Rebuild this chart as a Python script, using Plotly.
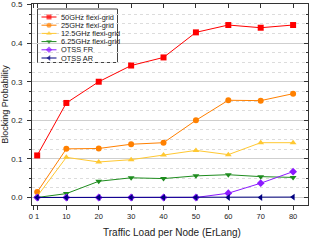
import plotly.graph_objects as go

# ---- data ----
loads = [1, 10, 20, 30, 40, 50, 60, 70, 80]
bp_50ghz = [0.109, 0.245, 0.300, 0.342, 0.363, 0.428, 0.447, 0.440, 0.447]
bp_25ghz = [0.014, 0.126, 0.127, 0.138, 0.142, 0.200, 0.252, 0.251, 0.269]
bp_12_5ghz = [0.003, 0.104, 0.092, 0.098, 0.110, 0.122, 0.111, 0.142, 0.142]
bp_6_25ghz = [0.000, 0.010, 0.042, 0.051, 0.049, 0.056, 0.059, 0.054, 0.052]
bp_otss_fr = [0.000, 0.000, 0.000, 0.000, 0.000, 0.000, 0.011, 0.037, 0.067]
bp_otss_ar = [0.000, 0.000, 0.000, 0.000, 0.000, 0.000, 0.000, 0.000, 0.001]

series_names = ["50GHz flexi-grid", "25GHz flexi-grid", "12.5GHz flexi-grid",
                "6.25GHz flexi-grid", "OTSS FR", "OTSS AR"]
x_tickvals = [0, 1, 10, 20, 30, 40, 50, 60, 70, 80]
x_ticktext = ["0 1", "", "10", "20", "30", "40", "50", "60", "70", "80"]
y_tickvals = [0.0, 0.1, 0.2, 0.3, 0.4, 0.5]

series_values = [bp_50ghz, bp_25ghz, bp_12_5ghz, bp_6_25ghz, bp_otss_fr, bp_otss_ar]
colors = ["#FF0000", "#FF8000", "#FFC831", "#1E8C1E", "#8C1AFF", "#000080"]
symbols = ["square", "circle", "triangle-up", "triangle-down", "diamond", "triangle-left"]

FONT = "Liberation Sans, Arial, sans-serif"
TXT = "#222222"
W, H = 312, 240
ML, MR, MT, MB = 32, 4, 4, 35
XR = [-0.6, 84.6]
YR = [-0.0195, 0.5015]

fig = go.Figure()
for name, vals, c, s in zip(series_names, series_values, colors, symbols):
    fig.add_trace(go.Scatter(
        x=loads, y=vals, mode="lines+markers", name=name,
        line=dict(color=c, width=1),
        marker=dict(color=c, symbol=s, size=6, line=dict(width=0)),
        showlegend=False, xaxis="x", yaxis="y"))

pw, ph = W - ML - MR, H - MT - MB


def px2data(px, py):
    fx = (px - ML) / pw
    fy = (H - MB - py) / ph
    return XR[0] + fx * (XR[1] - XR[0]), YR[0] + fy * (YR[1] - YR[0])


def px2paper(px, py):
    return (px - ML) / pw, (H - MB - py) / ph


# ---- hand-made legend (plotly's own legend rows are too tall at this size) ----
row0, row_step = 17.0, 8.2
for i, (name, c, s) in enumerate(zip(series_names, colors, symbols)):
    py = row0 + i * row_step
    xa, ya = px2data(41.5, py)
    xm, _ = px2data(49.0, py)
    xb, _ = px2data(56.5, py)
    fig.add_trace(go.Scatter(
        x=[xa, xm, xb], y=[ya, ya, ya], mode="lines+markers",
        line=dict(color=c, width=1),
        marker=dict(color=c, symbol=s, size=[0, 5, 0], line=dict(width=0)),
        showlegend=False, hoverinfo="skip", xaxis="x2", yaxis="y2"))
    tx, ty = px2paper(59.0, py)
    fig.add_annotation(x=tx, y=ty, xref="paper", yref="paper", text=name,
                       showarrow=False, xanchor="left", yanchor="middle",
                       font=dict(family=FONT, size=7.4, color=TXT))

bx0, by0 = px2paper(37.5, 62.5)
bx1, by1 = px2paper(117.5, 9.0)
fig.add_shape(type="rect", xref="paper", yref="paper", x0=bx0, y0=by0, x1=bx1, y1=by1,
              line=dict(color="#444444", width=1), fillcolor="white", layer="between")

fig.add_annotation(x=px2paper(171.7, 0)[0], y=px2paper(0, 232.5)[1], xref="paper", yref="paper",
                   text="Traffic Load per Node (ErLang)", showarrow=False,
                   xanchor="center", yanchor="middle",
                   font=dict(family=FONT, size=10, color=TXT))

axis_line = dict(showline=True, linecolor="#333333", linewidth=1, zeroline=False)
fig.update_layout(
    width=W, height=H, margin=dict(l=ML, r=MR, t=MT, b=MB, autoexpand=False),
    paper_bgcolor="white", plot_bgcolor="white",
    font=dict(family=FONT, color=TXT),
    showlegend=False,
    xaxis=dict(range=XR, tickvals=x_tickvals, ticktext=x_ticktext, ticks="outside",
               ticklen=4, tickcolor="#333333", showgrid=False, automargin=False,
               ticklabeloverflow="allow",
               tickfont=dict(size=7.5, color=TXT), **axis_line),
    xaxis2=dict(range=XR, overlaying="x", side="top", tickvals=x_tickvals, ticks="inside",
                ticklen=4, tickcolor="#333333", showticklabels=False, showgrid=False,
                automargin=False, **axis_line),
    yaxis=dict(range=YR, tickvals=y_tickvals, tickformat=".1f", ticks="outside",
               ticklen=4, tickcolor="#333333", showgrid=True, gridcolor="#cfcfcf",
               gridwidth=1, tickfont=dict(size=8, color=TXT), automargin=False,
               ticklabeloverflow="allow", ticklabelstandoff=3,
               title=dict(text="Blocking Probability", standoff=6,
                          font=dict(family=FONT, size=9, color=TXT)),
               minor=dict(dtick=0.025, tick0=0, ticks="outside", ticklen=2,
                          tickcolor="#333333", showgrid=True, gridcolor="#dcdcdc",
                          griddash="dot", gridwidth=1),
               **axis_line),
    yaxis2=dict(range=YR, overlaying="y", side="right", tickvals=y_tickvals, ticks="inside",
                ticklen=4, tickcolor="#333333", showticklabels=False, showgrid=False,
                automargin=False,
                minor=dict(dtick=0.025, tick0=0, ticks="inside", ticklen=2,
                           tickcolor="#333333", showgrid=False),
                **axis_line),
)

fig.write_html("out.html", config={"displayModeBar": False},
               post_script="document.body.style.margin='0';document.body.style.padding='0';"
                           "document.documentElement.style.overflow='hidden';")
